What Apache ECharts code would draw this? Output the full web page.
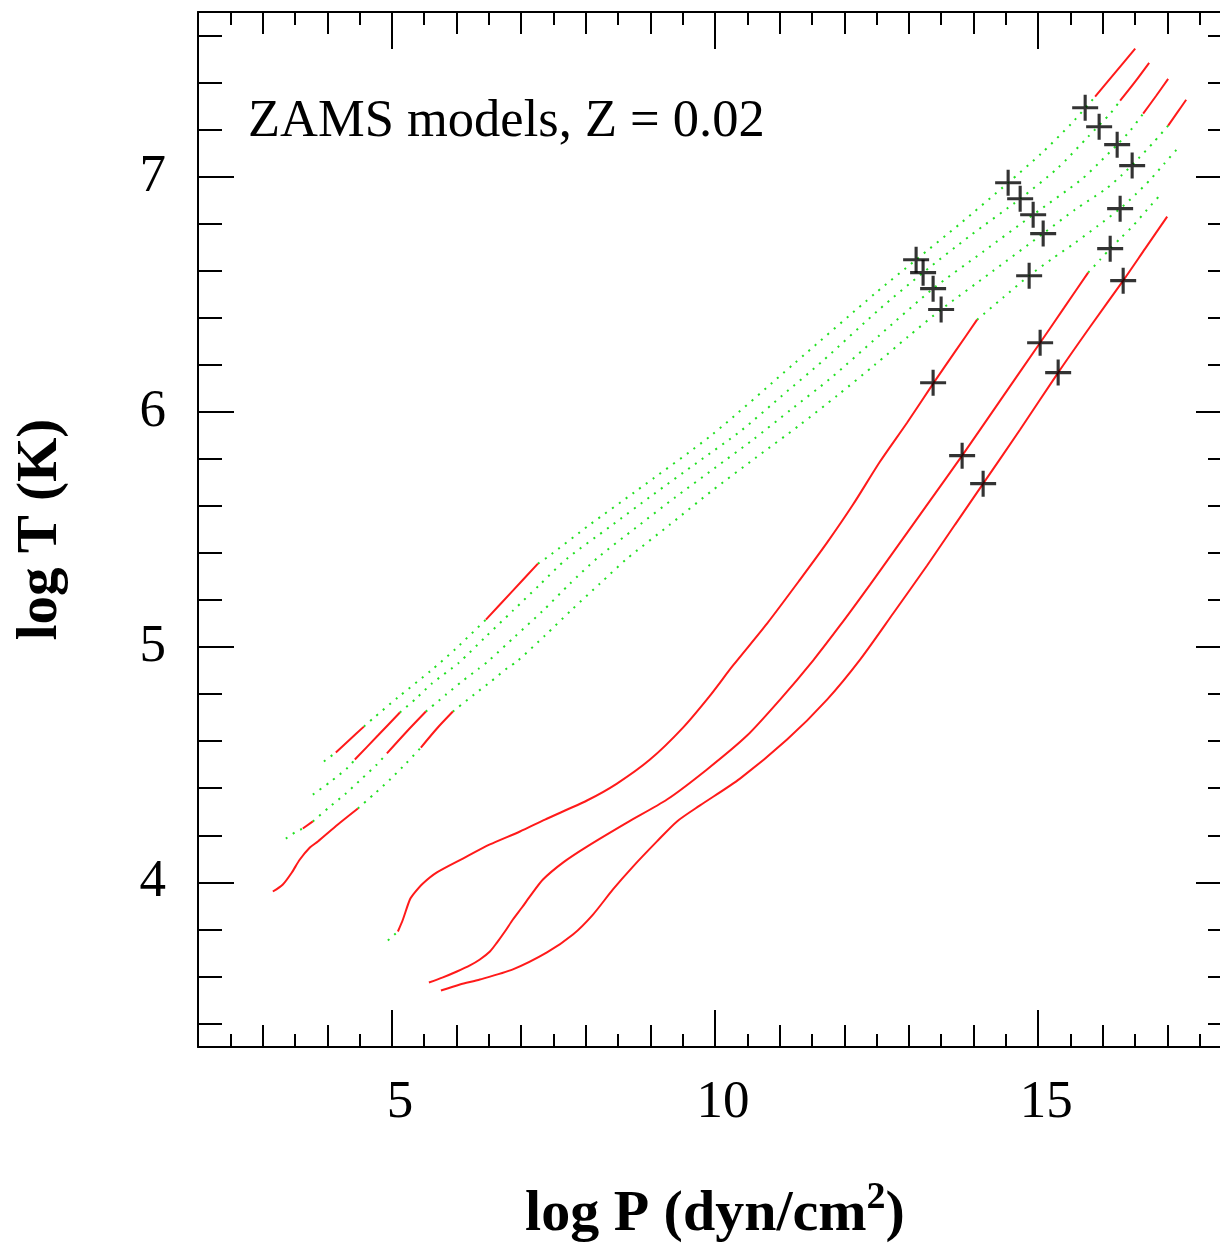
<!DOCTYPE html>
<html>
<head>
<meta charset="utf-8">
<script src="https://cdn.jsdelivr.net/npm/echarts@6/dist/echarts.min.js"></script>
<style>
  html, body { margin: 0; padding: 0; background: #fff; }
  #chart { width: 1220px; height: 1246px; }
</style>
</head>
<body>
<div id="chart"></div>
<script>
// ---------- DATA (log P [dyn/cm^2], log T [K]) ----------
// Each model: ordered list of zones from surface to centre; 'conv' = convective, 'rad' = radiative
const modelL1 = [
  ['rad',  [[3.948,4.514],[4.133,4.552]]],
  ['conv', [[4.133,4.552],[4.350,4.607],[4.567,4.662]]],
  ['rad',  [[4.567,4.662],[4.706,4.696],[5.093,4.786],[5.604,4.900],[5.991,4.994],[6.455,5.117]]],
  ['conv', [[6.455,5.117],[6.858,5.236],[7.260,5.355]]],
  ['rad',  [[7.260,5.355],[7.400,5.381],[8.065,5.521],[8.746,5.657],[9.954,5.903],[11.223,6.205],[12.492,6.507],[13.112,6.647],[13.793,6.800],[14.536,6.974],[15.047,7.098],[15.526,7.229],[15.882,7.340]]],
  ['conv', [[15.882,7.340],[16.192,7.442],[16.502,7.544]]]
];
const modelL2 = [
  ['rad',  [[3.777,4.373],[4.056,4.429],[4.319,4.488],[4.427,4.522]]],
  ['conv', [[4.427,4.522],[4.783,4.624],[5.124,4.722]]],
  ['rad',  [[5.124,4.722],[5.372,4.781],[5.619,4.845],[6.037,4.934],[6.440,5.041],[6.873,5.155],[7.291,5.266],[7.709,5.376],[8.375,5.512],[9.040,5.648],[9.721,5.784],[10.403,5.920],[11.037,6.069],[11.672,6.218],[12.539,6.435],[13.220,6.592],[13.948,6.749],[14.722,6.906],[15.294,7.034],[15.774,7.170],[16.115,7.268],[16.269,7.323]]],
  ['conv', [[16.269,7.323],[16.502,7.404],[16.718,7.484]]]
];
const modelL3 = [
  ['rad',  [[3.359,4.186],[3.499,4.212],[3.622,4.229]]],
  ['conv', [[3.622,4.229],[3.777,4.259]]],
  ['rad',  [[3.777,4.259],[4.025,4.318],[4.288,4.378],[4.536,4.441],[4.768,4.501],[4.923,4.548]]],
  ['conv', [[4.923,4.548],[5.217,4.637],[5.526,4.726]]],
  ['rad',  [[5.526,4.726],[5.836,4.798],[6.084,4.854],[6.347,4.909],[6.486,4.939],[6.904,5.045],[7.338,5.155],[7.756,5.270],[8.189,5.381],[8.777,5.508],[9.381,5.636],[9.985,5.759],[10.588,5.882],[11.177,6.010],[11.780,6.141],[12.539,6.324],[13.375,6.524],[14.149,6.681],[14.923,6.838],[15.666,6.987],[15.929,7.055],[16.223,7.136],[16.424,7.195],[16.625,7.268]]],
  ['conv', [[16.625,7.268],[16.827,7.344],[17.012,7.416]]]
];
const modelL4 = [
  ['conv', [[3.158,3.961],[3.313,3.991],[3.452,4.042],[3.576,4.097],[3.731,4.148],[3.855,4.174],[4.164,4.246],[4.474,4.314]]],
  ['rad',  [[4.474,4.314],[4.737,4.378],[4.985,4.441],[5.217,4.505],[5.449,4.573]]],
  ['conv', [[5.449,4.573],[5.697,4.654],[5.944,4.726]]],
  ['rad',  [[5.944,4.726],[6.270,4.798],[6.533,4.854],[6.796,4.913],[6.935,4.939],[7.369,5.049],[7.787,5.160],[8.220,5.270],[8.638,5.376],[9.304,5.521],[9.954,5.665],[10.635,5.806],[11.301,5.942],[11.889,6.069],[12.477,6.201],[12.988,6.320],[13.499,6.435],[14.288,6.596],[15.078,6.758],[15.573,6.860],[16.053,6.949],[16.300,7.008],[16.548,7.076],[16.780,7.144],[17.012,7.217]]],
  ['conv', [[17.012,7.217],[17.152,7.272],[17.291,7.327]]]
];
const modelA = [
  ['rad',  [[4.938,3.753],[5.093,3.791]]],
  ['conv', [[5.093,3.791],[5.171,3.842],[5.279,3.927],[5.356,3.957],[5.480,3.995],[5.697,4.042],[6.099,4.101],[6.517,4.161],[6.982,4.216],[7.369,4.267],[8.019,4.348],[8.483,4.420],[8.994,4.522],[9.505,4.658],[9.923,4.794],[10.279,4.922],[10.805,5.100],[11.316,5.287],[11.734,5.444],[12.136,5.606],[12.554,5.789],[12.972,5.954],[13.375,6.120],[13.715,6.256],[14.056,6.392]]],
  ['rad',  [[14.056,6.392],[14.459,6.486],[14.861,6.579],[15.217,6.651],[15.573,6.719],[15.929,6.792],[16.269,6.864],[16.502,6.923],[16.734,6.987],[16.951,7.055],[17.168,7.123]]]
];
const modelB = [
  ['conv', [[5.573,3.574],[5.790,3.596],[6.006,3.621],[6.208,3.647],[6.362,3.672],[6.517,3.706],[6.626,3.744],[6.749,3.791],[6.873,3.842],[7.013,3.893],[7.136,3.940],[7.338,4.012],[7.647,4.084],[8.019,4.152],[8.638,4.254],[9.257,4.352],[9.876,4.480],[10.496,4.624],[11.007,4.777],[11.517,4.943],[11.935,5.092],[12.400,5.266],[12.864,5.444],[13.328,5.623],[13.824,5.814],[14.412,6.048],[15.031,6.294],[15.403,6.443],[15.774,6.592]]],
  ['rad',  [[15.774,6.592],[15.960,6.647],[16.115,6.694],[16.285,6.741],[16.455,6.787],[16.687,6.860],[16.920,6.932]]]
];
const modelC = [
  ['conv', [[5.759,3.540],[6.053,3.566],[6.362,3.587],[6.873,3.630],[7.400,3.702],[7.802,3.778],[8.112,3.863],[8.421,3.970],[8.731,4.067],[9.102,4.174],[9.412,4.259],[9.768,4.327],[10.387,4.441],[11.115,4.607],[11.734,4.777],[12.245,4.947],[12.756,5.143],[13.282,5.347],[13.715,5.521],[14.149,5.695],[14.722,5.925],[15.310,6.167],[15.805,6.362],[16.316,6.558],[16.656,6.694],[16.997,6.830]]]
];
// "+" marks, three per model
const marksOuter  = [[13.112,6.647],[13.220,6.592],[13.375,6.524],[13.499,6.435],[13.375,6.124],[13.824,5.814],[14.149,5.695]];
const marksMiddle = [[14.536,6.974],[14.722,6.906],[14.923,6.838],[15.078,6.758],[14.861,6.579],[15.031,6.294],[15.310,6.167]];
const marksInner  = [[15.728,7.293],[15.944,7.212],[16.223,7.136],[16.455,7.047],[16.269,6.864],[16.115,6.694],[16.316,6.558]];

const xRange = [2, 18];
const yRange = [3.3, 7.7];
const xMajorTicks = [5, 10, 15];
const yMajorTicks = [4, 5, 6, 7];
const yMinorTicks = [3.4,3.6,3.8,4.0,4.2,4.4,4.6,4.8,5.0,5.2,5.4,5.6,5.8,6.0,6.2,6.4,6.6,6.8,7.0,7.2,7.4,7.6];

const titleText = 'ZAMS models, Z = 0.02';
const xName = 'log P (dyn/cm';
const yName = 'log T (K)';

// ---------- CHART ----------
const FONT = "'Liberation Serif', 'Times New Roman', serif";
const chart = echarts.init(document.getElementById('chart'), null, { renderer: 'canvas' });

const redStyle = { color: '#ff1a1a', width: 2 };
const greenStyle = { color: '#22e022', width: 2, type: [2, 6.4], cap: 'butt' };

const series = [];
[modelL1, modelL2, modelL3, modelL4, modelA, modelB, modelC].forEach(function (model) {
  model.forEach(function (zone) {
    series.push({
      type: 'line', xAxisIndex: 0, yAxisIndex: 0,
      data: zone[1], symbol: 'none', smooth: 0.25,
      lineStyle: zone[0] === 'conv' ? redStyle : greenStyle,
      silent: true, animation: false, z: zone[0] === 'conv' ? 3 : 2
    });
  });
});
const plusPath = 'path://M-0.12,-1 L0.12,-1 L0.12,-0.12 L1,-0.12 L1,0.12 L0.12,0.12 L0.12,1 L-0.12,1 L-0.12,0.12 L-1,0.12 L-1,-0.12 L-0.12,-0.12 Z';
series.push({
  type: 'scatter', xAxisIndex: 0, yAxisIndex: 0,
  data: marksOuter.concat(marksMiddle, marksInner),
  symbol: plusPath, symbolSize: 26,
  itemStyle: { color: '#000' }, silent: true, animation: false, z: 5
});

const axisLineStyle = { show: true, lineStyle: { color: '#000', width: 2 } };
function xAxisPair(position, withLabels) {
  return [
    {
      type: 'value', position: position, min: xRange[0], max: xRange[1], interval: 1,
      axisLine: axisLineStyle,
      axisTick: { show: true, inside: true, length: 22, lineStyle: { color: '#000', width: 2 } },
      minorTick: { show: true, splitNumber: 2, length: 13, lineStyle: { color: '#000', width: 2 } },
      axisLabel: { show: false }, splitLine: { show: false }, minorSplitLine: { show: false }
    },
    {
      type: 'value', position: position, min: xRange[0], max: xRange[1],
      axisLine: { show: false },
      axisTick: { show: true, inside: true, length: 37, customValues: xMajorTicks, lineStyle: { color: '#000', width: 2 } },
      axisLabel: withLabels ? { show: true, customValues: xMajorTicks, margin: 30, padding: [0, 0, 0, 16], color: '#000', fontFamily: FONT, fontSize: 53 } : { show: false },
      splitLine: { show: false },
      name: withLabels ? '{a|' + xName + '}{s|2}{a|)}' : '',
      nameLocation: 'middle', nameGap: 132,
      nameTextStyle: {
        rich: {
          a: { fontFamily: FONT, fontSize: 58, fontWeight: 'bold', color: '#000' },
          s: { fontFamily: FONT, fontSize: 38, fontWeight: 'bold', color: '#000', padding: [0, 0, 34, 0] }
        }
      }
    }
  ];
}
function yAxisPair(position, withLabels) {
  return [
    {
      type: 'value', position: position, min: yRange[0], max: yRange[1],
      axisLine: axisLineStyle,
      axisTick: { show: true, inside: true, length: 24, customValues: yMinorTicks, lineStyle: { color: '#000', width: 2 } },
      axisLabel: { show: false }, splitLine: { show: false }
    },
    {
      type: 'value', position: position, min: yRange[0], max: yRange[1],
      axisLine: { show: false },
      axisTick: { show: true, inside: true, length: 36, customValues: yMajorTicks, lineStyle: { color: '#000', width: 2 } },
      axisLabel: withLabels ? { show: true, customValues: yMajorTicks, margin: 32, color: '#000', fontFamily: FONT, fontSize: 53 } : { show: false },
      splitLine: { show: false },
      name: withLabels ? yName : '',
      nameLocation: 'middle', nameRotate: 90, nameGap: 128,
      nameTextStyle: { fontFamily: FONT, fontSize: 57, fontWeight: 'bold', color: '#000' }
    }
  ];
}

chart.setOption({
  backgroundColor: '#fff',
  animation: false,
  title: {
    text: titleText, left: 243, top: 91,
    textStyle: { fontFamily: FONT, fontSize: 52.5, fontWeight: 'normal', color: '#000' }
  },
  grid: { left: 198, width: 1034, top: 12, height: 1035, containLabel: false, outerBoundsMode: 'none' },
  xAxis: xAxisPair('bottom', true).concat(xAxisPair('top', false)),
  yAxis: yAxisPair('left', true).concat(yAxisPair('right', false)),
  series: series
});
</script>
</body>
</html>
